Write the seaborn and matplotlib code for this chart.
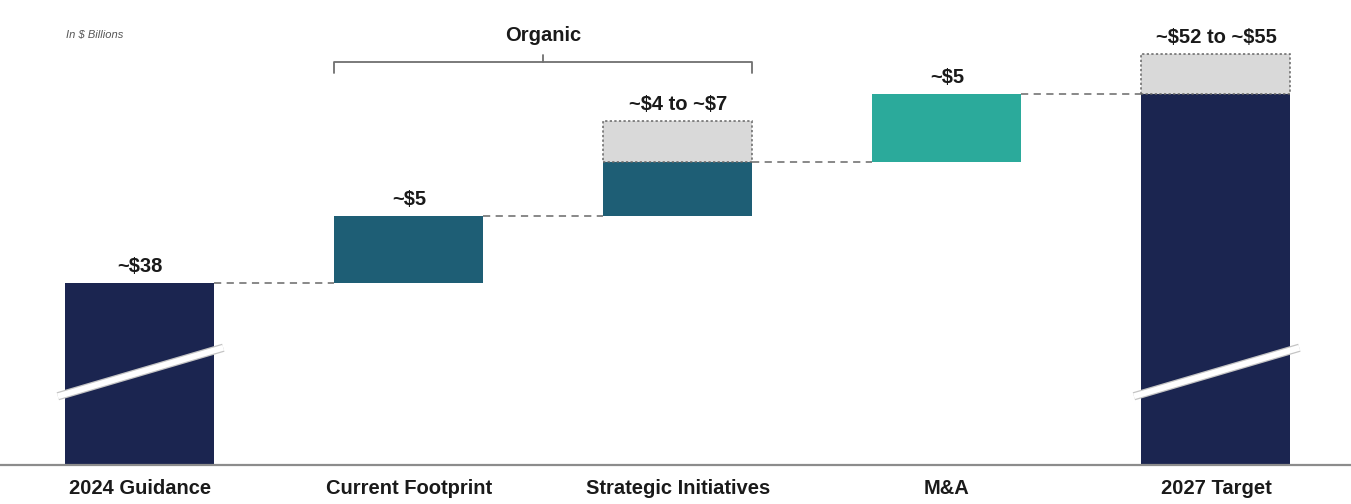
import matplotlib
matplotlib.use("Agg")
import matplotlib.pyplot as plt
import seaborn as sns

# Revenue bridge, in $ billions
categories = ["2024 Guidance", "Current Footprint", "Strategic Initiatives", "M&A", "2027 Target"]
solid_bottom = [0, 38, 43, 47, 0]
solid_height = [38, 5, 4, 5, 52]
range_categories = ["Strategic Initiatives", "2027 Target"]
range_bottom = [47, 52]
range_height = [3, 3]
value_labels = ["~$38", "~$5", "~$4 to ~$7", "~$5", "~$52 to ~$55"]
label_tops = [38, 43, 50, 52, 55]
connector_levels = [38, 43, 47, 52]
bar_colors = ["#1B2550", "#1E5E75", "#1E5E75", "#2BAA9B", "#1B2550"]

sns.set_style("white")
plt.rcParams["font.family"] = ["Liberation Sans", "DejaVu Sans"]
plt.rcParams["text.parse_math"] = False

BAR_W = 0.554
fig = plt.figure(figsize=(13.51, 5.04), dpi=100)
ax = fig.add_axes([0, 39 / 504, 1, 1 - 39 / 504])

# solid segments of the waterfall
sns.barplot(x=categories, y=solid_height, bottom=solid_bottom, order=categories,
            color=bar_colors[0], saturation=1, width=BAR_W, errorbar=None,
            linewidth=0, ax=ax, zorder=2)
for patch, c in zip(ax.patches, bar_colors):
    patch.set_facecolor(c)

# upper end of the ranges, light grey with dotted outline
sns.barplot(x=range_categories, y=range_height, bottom=range_bottom, order=categories,
            color="#D9D9D9", saturation=1, width=BAR_W, errorbar=None,
            edgecolor="#666666", linewidth=1.1, linestyle=(0, (1.5, 1.5)), ax=ax, zorder=2)

# dashed connectors between consecutive bars
for i, level in enumerate(connector_levels):
    ax.hlines(level, i + BAR_W / 2, i + 1 - BAR_W / 2, colors="#7F7F7F",
              linestyles=(0, (4, 3)), linewidth=1.3, zorder=1)

# value labels above each bar
for i, (txt, top) in enumerate(zip(value_labels, label_tops)):
    ax.annotate(txt, (i, top), xytext=(0, 5), textcoords="offset points",
                ha="center", va="bottom", fontsize=14.5, fontweight="bold",
                color="#1a1a1a", parse_math=False)

# axis-break marks across the first and last bars
for i in (0, 4):
    xs = [i - 0.305, i + 0.31]
    ys = [29.6, 33.2]
    ax.plot(xs, ys, color="#C4C4C4", lw=6.0, solid_capstyle="butt", zorder=3, clip_on=False)
    ax.plot(xs, ys, color="white", lw=4.2, solid_capstyle="butt", zorder=4, clip_on=False)

# bracket grouping the organic drivers
bx0, bx1 = 1 - BAR_W / 2, 2 + BAR_W / 2
by = 54.4
ax.plot([bx0, bx0, bx1, bx1], [53.6, by, by, 53.6], color="#707070", lw=1.3, clip_on=False)
ax.plot([1.5, 1.5], [by, 54.95], color="#707070", lw=1.3, clip_on=False)
ax.text(1.5, 56.4, "Organic", ha="center", va="center", fontsize=14.5,
        fontweight="bold", color="#1a1a1a")

ax.set_xlim(-0.52, 4.502)
ax.set_ylim(24.5, 59.0)
ax.set_yticks([])
ax.set_xlabel("")
ax.set_ylabel("")
for side in ("top", "left", "right"):
    ax.spines[side].set_visible(False)
ax.spines["bottom"].set_color("#8C8C8C")
ax.spines["bottom"].set_linewidth(1.6)
ax.tick_params(axis="x", length=0, pad=10, labelsize=14.5, labelcolor="#1a1a1a")
for lab in ax.get_xticklabels():
    lab.set_fontweight("bold")

fig.text(66 / 1351, 1 - 35 / 504, "In $ Billions", fontsize=8, style="italic",
         color="#555555", ha="left", va="center")

fig.savefig("out.png", dpi=100, facecolor="white")
